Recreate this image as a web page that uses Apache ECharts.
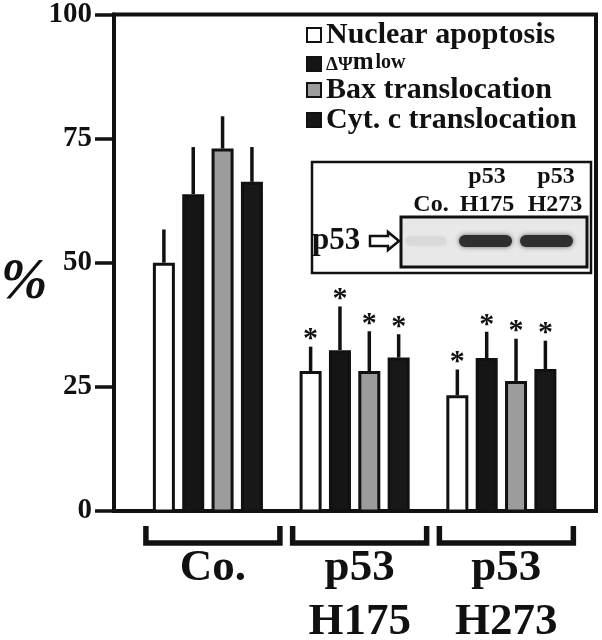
<!DOCTYPE html>
<html>
<head>
<meta charset="utf-8">
<script src="https://cdn.jsdelivr.net/npm/echarts@6/dist/echarts.min.js"></script>
<style>
  html, body { margin: 0; padding: 0; background: #fff; }
  #chart { width: 602px; height: 640px; }
</style>
</head>
<body>
<div id="chart"></div>
<script>
// groups and series
const groups = ['Co.', 'p53\nH175', 'p53\nH273'];
const names = ['Nuclear apoptosis', 'ΔΨm low', 'Bax translocation', 'Cyt. c translocation'];

// mean values (%)
const nuclear = [50.0, 28.2, 23.3];
const dpsi = [63.8, 32.4, 30.8];
const bax = [73.0, 28.2, 26.2];
const cytc = [66.3, 30.9, 28.6];

// SD (upper error bar)
const nuclearSd = [6.7, 4.9, 5.2];
const dpsiSd = [9.5, 8.8, 5.3];
const baxSd = [6.5, 8.0, 8.5];
const cytcSd = [7.0, 4.7, 5.7];

// * = significant vs Co.
const significant = [0, 1, 1];

const FONT = "'Liberation Serif', 'DejaVu Serif', serif";
const INK = '#111';
const fills = ['#ffffff', '#151515', '#9c9c9c', '#181818'];
const offsets = [-0.3, -0.1, 0.1, 0.3];
const means = [nuclear, dpsi, bax, cytc];
const sds = [nuclearSd, dpsiSd, baxSd, cytcSd];

const chart = echarts.init(document.getElementById('chart'));

function renderBar(params, api) {
  const gi = api.value(0);
  const v = api.value(1);
  const sd = api.value(2);
  const sig = api.value(3);
  const x = gi + offsets[params.seriesIndex];
  const top = api.coord([x, v]);
  const base = api.coord([x, 0]);
  const errTop = api.coord([x, v + sd]);
  const w = api.size([0.15, 0])[0];
  const children = [
    {
      type: 'line',
      shape: { x1: top[0], y1: top[1], x2: top[0], y2: errTop[1] },
      style: { stroke: INK, lineWidth: 3.5 }
    },
    {
      type: 'rect',
      shape: { x: top[0] - w / 2 + 1.5, y: top[1] + 1.5, width: w - 3, height: base[1] - top[1] - 1.5 },
      style: { fill: fills[params.seriesIndex], stroke: INK, lineWidth: 3 }
    }
  ];
  if (sig) {
    children.push({
      type: 'text',
      style: {
        text: '*', x: top[0], y: errTop[1] - 7,
        font: 'bold 30px ' + FONT, fill: INK, align: 'center', verticalAlign: 'middle'
      }
    });
  }
  return { type: 'group', children: children };
}

function renderGroupLabel(params, api) {
  const p = api.coord([api.value(0), 0]);
  const cx = p[0] + 5;
  const y = p[1];
  return {
    type: 'group',
    children: [
      {
        type: 'polyline',
        shape: { points: [[cx - 67, y + 15], [cx - 67, y + 32], [cx + 67, y + 32], [cx + 67, y + 15]] },
        style: { stroke: INK, lineWidth: 5.5, fill: null, lineJoin: 'miter' }
      },
      {
        type: 'text',
        style: {
          text: groups[params.dataIndex], x: cx, y: y + 30,
          font: 'bold 45px ' + FONT, lineHeight: 54, fill: INK,
          align: 'center', verticalAlign: 'top'
        }
      }
    ]
  };
}

const barSeries = names.map((n, s) => ({
  name: n,
  type: 'custom',
  renderItem: renderBar,
  itemStyle: { color: fills[s] },
  encode: { x: 0, y: 1 },
  data: groups.map((g, i) => [i, means[s][i], sds[s][i], significant[i]])
}));

const option = {
  animation: false,
  grid: {
    left: 114, right: 6, top: 14, bottom: 129,
    show: true, borderColor: INK, borderWidth: 4, backgroundColor: 'transparent'
  },
  xAxis: {
    type: 'value', min: -0.64, max: 2.645, show: false
  },
  yAxis: {
    type: 'value', min: 0, max: 100, interval: 25,
    axisLine: { show: true, onZero: false, lineStyle: { color: INK, width: 4 } },
    axisTick: { show: true, length: 19, lineStyle: { color: INK, width: 3.5 } },
    axisLabel: { color: INK, fontFamily: FONT, fontWeight: 'bold', fontSize: 29, margin: 22 },
    splitLine: { show: false }
  },
  legend: {
    orient: 'vertical', left: 306, top: 20, padding: 0, itemGap: 0,
    itemWidth: 14, itemHeight: 14, icon: 'rect', selectedMode: false,
    data: names.map((n, i) => ({
      name: n,
      itemStyle: { color: fills[i], borderColor: INK, borderWidth: 2 }
    })),
    formatter: function (name) {
      return name === 'ΔΨm low' ? '{d|ΔΨ}{m|m}{l|low}' : name;
    },
    textStyle: {
      color: INK, fontFamily: FONT, fontWeight: 'bold', fontSize: 30, lineHeight: 28,
      rich: {
        d: { fontFamily: FONT, fontWeight: 'bold', fontSize: 19, color: INK, lineHeight: 14, verticalAlign: 'bottom' },
        m: { fontFamily: FONT, fontWeight: 'bold', fontSize: 25, color: INK, lineHeight: 4, verticalAlign: 'bottom' },
        l: { fontFamily: FONT, fontWeight: 'bold', fontSize: 20, color: INK, lineHeight: 22, verticalAlign: 'top', padding: [0, 0, 0, 2] }
      }
    }
  },
  graphic: [
    {
      type: 'text',
      style: { text: '%', x: 24, y: 284, font: 'italic bold 56px ' + FONT, fill: INK, align: 'center', verticalAlign: 'middle' }
    },
    // western blot inset
    {
      type: 'rect',
      shape: { x: 312, y: 162, width: 279, height: 111 },
      style: { fill: 'transparent', stroke: INK, lineWidth: 2.5 }
    },
    {
      type: 'rect',
      shape: { x: 401, y: 217, width: 186, height: 50 },
      style: { fill: '#e8e8e8', stroke: INK, lineWidth: 3 }
    },
    {
      type: 'rect',
      shape: { x: 406, y: 237, width: 40, height: 8, r: 4 },
      style: { fill: '#d9d9d9', shadowBlur: 3, shadowColor: '#ccc' }
    },
    {
      type: 'rect',
      shape: { x: 459, y: 235, width: 53, height: 12, r: 6 },
      style: { fill: '#2e2e2e', shadowBlur: 5, shadowColor: '#666' }
    },
    {
      type: 'rect',
      shape: { x: 520, y: 235, width: 53, height: 12, r: 6 },
      style: { fill: '#2e2e2e', shadowBlur: 5, shadowColor: '#666' }
    },
    {
      type: 'polygon',
      shape: { points: [[370, 236], [388, 236], [388, 232], [399, 241], [388, 250], [388, 246], [370, 246]] },
      style: { fill: '#fff', stroke: INK, lineWidth: 2.5 }
    },
    {
      type: 'text',
      style: { text: 'p53', x: 312, y: 241, font: 'bold 31px ' + FONT, fill: INK, align: 'left', verticalAlign: 'middle' }
    },
    {
      type: 'text',
      style: { text: 'p53', x: 487, y: 177, font: 'bold 24px ' + FONT, fill: INK, align: 'center', verticalAlign: 'middle' }
    },
    {
      type: 'text',
      style: { text: 'p53', x: 556, y: 177, font: 'bold 24px ' + FONT, fill: INK, align: 'center', verticalAlign: 'middle' }
    },
    {
      type: 'text',
      style: { text: 'Co.', x: 431, y: 205, font: 'bold 24px ' + FONT, fill: INK, align: 'center', verticalAlign: 'middle' }
    },
    {
      type: 'text',
      style: { text: 'H175', x: 487, y: 205, font: 'bold 24px ' + FONT, fill: INK, align: 'center', verticalAlign: 'middle' }
    },
    {
      type: 'text',
      style: { text: 'H273', x: 555, y: 205, font: 'bold 24px ' + FONT, fill: INK, align: 'center', verticalAlign: 'middle' }
    }
  ],
  series: barSeries.concat([
    {
      name: 'groups',
      type: 'custom',
      renderItem: renderGroupLabel,
      encode: { x: 0, y: 1 },
      data: groups.map((g, i) => [i, 0])
    }
  ])
};

chart.setOption(option);
</script>
</body>
</html>
